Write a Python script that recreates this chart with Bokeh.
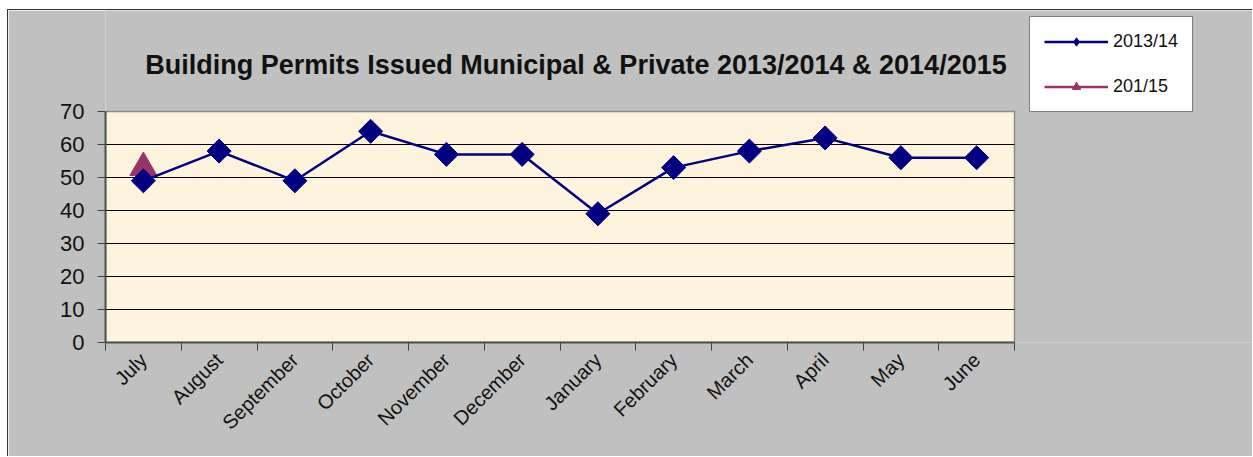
from bokeh.plotting import figure
from bokeh.models import FixedTicker, Legend, LegendItem, Label
from bokeh.embed import file_html
from bokeh.resources import INLINE
import math

months = ["July", "August", "September", "October", "November", "December",
          "January", "February", "March", "April", "May", "June"]
series_2013_14 = [49, 58, 49, 64, 57, 57, 39, 53, 58, 62, 56, 56]
series_2014_15_months = ["July"]
series_2014_15 = [53]
y_ticks = [0, 10, 20, 30, 40, 50, 60, 70]
grid_values = [10, 20, 30, 40, 50, 60]
title_text = "Building Permits Issued Municipal & Private 2013/2014 & 2014/2015"

N = len(months)
Y_MAX = 70
x_main = [i + 0.5 for i in range(N)]
x_second = [months.index(m) + 0.5 for m in series_2014_15_months]

FONT = "Liberation Sans"

# layout (pixels)
W, H = 1245, 447
ML, MR, MT, MB = 97, 0, 0, 115
PLOT_W, PLOT_H = 909, 231          # size of the cream plot area
FRAME_W = W - ML - MR
FRAME_H = H - MT - MB
x_end = N * FRAME_W / PLOT_W
y_end = Y_MAX * FRAME_H / PLOT_H

p = figure(width=W, height=H, output_backend="svg", toolbar_location=None,
           x_range=(0, x_end), y_range=(0, y_end),
           background_fill_color="#C0C0C0", border_fill_color="#C0C0C0",
           min_border_left=ML, min_border_right=MR, min_border_top=MT,
           min_border_bottom=MB)
p.styles = {"margin-left": "7px", "margin-top": "9px",
            "border-left": "1px solid #333333", "border-top": "1px solid #333333"}
p.outline_line_color = None
p.xgrid.visible = False
p.ygrid.visible = False

# cream plot area
p.quad(left=[0], right=[N], bottom=[0], top=[Y_MAX], fill_color="#FEF3DC",
       line_color="#8A8A8A", line_width=1.5, level="image")
# horizontal gridlines
p.segment(x0=[0] * len(grid_values), x1=[N] * len(grid_values),
          y0=grid_values, y1=grid_values, line_color="black", line_width=1,
          level="underlay")

# y axis
p.yaxis.bounds = (0, Y_MAX)
p.yaxis.ticker = FixedTicker(ticks=y_ticks)
p.yaxis.axis_line_color = "#505050"
p.yaxis.axis_line_width = 2
p.yaxis.major_tick_line_color = "#404040"
p.yaxis.major_tick_out = 8
p.yaxis.major_tick_in = 0
p.yaxis.minor_tick_line_color = None
p.yaxis.major_label_text_font = FONT
p.yaxis.major_label_text_font_size = "22px"
p.yaxis.major_label_text_color = "#111111"
p.yaxis.major_label_standoff = 13

# x axis: labels at category centers, tick marks between categories
p.xaxis.bounds = (0, N)
p.xaxis.ticker = FixedTicker(ticks=x_main, minor_ticks=list(range(N + 1)))
p.xaxis.major_label_overrides = {x: m for x, m in zip(x_main, months)}
p.xaxis.axis_line_color = "#505050"
p.xaxis.axis_line_width = 2
p.xaxis.major_tick_line_color = None
p.xaxis.major_tick_out = 8
p.xaxis.minor_tick_line_color = "#404040"
p.xaxis.minor_tick_out = 8
p.xaxis.minor_tick_in = 0
p.xaxis.major_label_orientation = math.pi / 4
p.xaxis.major_label_text_font = FONT
p.xaxis.major_label_text_font_size = "20px"
p.xaxis.major_label_text_color = "#111111"
p.xaxis.major_label_standoff = 6

# small markers used by the legend (hidden under the big markers)
l2 = p.scatter(x_second, series_2014_15, marker="triangle", size=8,
               fill_color="#993366", line_color="#993366")
l1 = p.scatter(x_main, series_2013_14, marker="diamond", size=9,
               fill_color="#000080", line_color="#000080")

# series
r2_line = p.line(x_second, series_2014_15, line_color="#993366", line_width=2.5)
p.scatter(x_second, series_2014_15, marker="triangle", size=27,
          fill_color="#993366", line_color="#993366")
r1_line = p.line(x_main, series_2013_14, line_color="#000080", line_width=2.5)
p.scatter(x_main, series_2013_14, marker="square", size=17, angle=math.pi / 4,
          fill_color="#000080", line_color="#000080")

LEG_H = 14 + 21 + 24 + 21 + 14
legend = Legend(items=[LegendItem(label="2013/14", renderers=[r1_line, l1]),
                       LegendItem(label="201/15", renderers=[r2_line, l2])],
                location=(924, FRAME_H - 8 - LEG_H), orientation="vertical",
                padding=14, spacing=24, label_height=21, glyph_height=21,
                glyph_width=64, label_standoff=5, margin=0,
                border_line_color="black", border_line_width=1,
                background_fill_color="white", background_fill_alpha=1,
                label_text_font=FONT, label_text_font_size="18px",
                label_text_color="#111111", label_text_baseline="middle")
p.add_layout(legend, "center")

title = Label(x=N / 2, y=Y_MAX, x_offset=16, y_offset=47, text=title_text,
              text_align="center", text_baseline="middle",
              text_font=FONT, text_font_size="27px", text_font_style="bold",
              text_color="#111111")
p.add_layout(title)

open("out.html", "w").write(file_html(p, INLINE))
